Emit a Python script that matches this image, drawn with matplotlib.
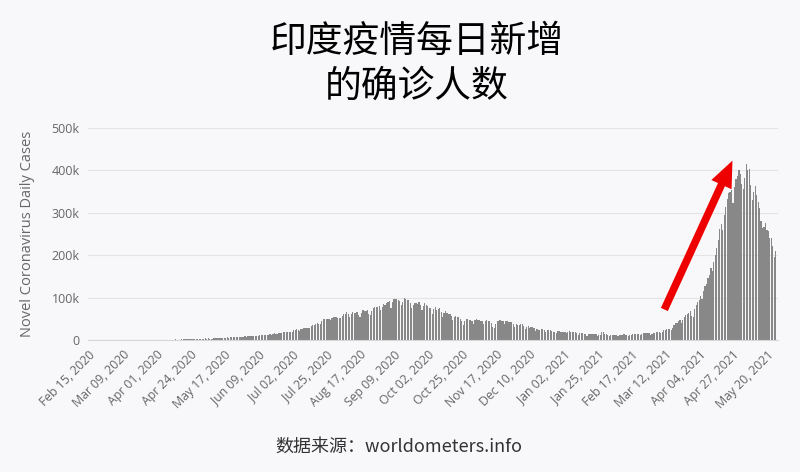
import datetime as dt
import matplotlib
matplotlib.use("Agg")
import matplotlib.pyplot as plt
from matplotlib.patches import FancyArrowPatch

plt.rcParams['font.family'] = ['Open Sans', 'Noto Sans CJK SC', 'DejaVu Sans']

title = "印度疫情每日新增\n的确诊人数"
source = "数据来源：worldometers.info"
ylabel = "Novel Coronavirus Daily Cases"
start_date = dt.date(2020, 2, 15)

# daily new cases, thousands
feb20 = [0.0] * 15
mar20 = [0.0, 0.0, 0.003, 0.001, 0.022, 0.002, 0.001, 0.003, 0.005, 0.009, 0.015, 0.008, 0.01, 0.01,
         0.012, 0.011, 0.01, 0.024, 0.023, 0.053, 0.069, 0.079, 0.111, 0.085, 0.089, 0.072, 0.146,
         0.155, 0.106, 0.227, 0.146]
apr20 = [0.6, 0.5, 0.7, 0.5, 0.7, 0.7, 0.5, 0.6, 0.8, 0.8, 1.0, 0.9, 0.8, 1.3, 1.1, 0.9, 0.9, 1.3,
         1.3, 1.2, 1.5, 1.2, 1.7, 1.4, 1.8, 1.6, 1.6, 1.5, 1.9, 1.8]
may20 = [2.4, 2.4, 2.6, 3.9, 3.0, 3.6, 3.3, 3.3, 3.3, 4.2, 3.6, 3.5, 3.7, 3.9, 3.9, 4.9, 5.0, 4.6,
         6.1, 5.6, 6.0, 6.6, 6.7, 6.8, 6.5, 6.4, 7.0, 7.3, 7.9, 7.5, 8.4]
jun20 = [8.2, 8.8, 9.6, 9.8, 9.9, 10.4, 9.9, 9.9, 10.0, 11.5, 11.1, 11.5, 12.0, 11.5, 10.7, 11.0,
         13.1, 12.9, 14.7, 15.9, 15.0, 14.0, 15.9, 16.9, 17.3, 18.5, 19.8, 19.9, 18.3, 18.5]
jul20 = [18.9, 19.4, 22.7, 24.0, 24.9, 23.1, 22.3, 24.9, 26.5, 27.8, 27.4, 28.6, 28.7, 28.5, 32.7,
         35.5, 34.9, 38.7, 40.2, 37.1, 37.7, 45.7, 49.3, 49.0, 48.7, 50.0, 49.6, 48.3, 52.5, 54.7, 55.1]
aug20 = [54.7, 52.8, 51.3, 52.1, 56.3, 62.2, 62.1, 65.0, 62.1, 53.6, 61.2, 67.0, 64.5, 63.5, 65.0,
         57.9, 55.0, 64.6, 69.7, 68.9, 68.9, 69.9, 61.8, 59.7, 67.2, 75.8, 77.3, 77.0, 78.5, 79.0, 69.9]
sep20 = [78.1, 83.9, 83.3, 86.4, 90.6, 91.7, 75.0, 89.7, 95.5, 96.5, 97.6, 94.4, 92.1, 81.9, 90.1,
         97.9, 96.8, 93.3, 93.2, 86.9, 75.1, 83.3, 86.5, 86.1, 85.4, 89.0, 82.8, 70.6, 80.5, 86.8]
oct20 = [81.5, 79.5, 75.8, 74.8, 61.3, 72.0, 78.8, 70.5, 73.3, 74.4, 66.7, 54.3, 63.5, 67.7, 63.4,
         62.2, 61.9, 55.7, 46.8, 54.0, 56.0, 54.4, 53.4, 50.4, 45.2, 36.5, 43.9, 49.9, 48.6, 48.3, 46.9]
nov20 = [45.2, 38.3, 46.3, 50.2, 47.6, 47.6, 45.7, 45.9, 38.1, 44.3, 47.9, 44.9, 44.7, 41.1, 30.5,
         29.2, 38.6, 45.6, 45.9, 46.2, 45.2, 44.1, 37.9, 44.4, 44.5, 43.1, 41.3, 41.8, 38.8, 31.1]
dec20 = [36.6, 35.9, 35.6, 36.6, 36.7, 32.9, 26.6, 31.5, 32.1, 29.4, 29.9, 30.2, 27.1, 22.1, 26.4,
         24.0, 22.9, 25.2, 25.2, 24.3, 18.7, 22.5, 23.6, 24.7, 22.3, 19.0, 19.4, 16.4, 20.5, 21.8, 20.0]
jan21 = [20.0, 18.2, 18.2, 16.4, 18.0, 20.3, 18.0, 18.1, 18.6, 18.1, 16.2, 12.6, 15.9, 16.9, 15.6,
         15.2, 13.8, 10.0, 13.8, 15.2, 14.5, 14.5, 14.3, 13.2, 9.1, 12.7, 11.7, 18.9, 18.8, 13.0, 13.0]
feb21 = [11.4, 8.6, 11.0, 12.9, 12.4, 12.0, 11.8, 9.0, 11.1, 12.9, 12.1, 13.0, 12.1, 11.6, 9.1,
         11.6, 12.0, 13.2, 13.0, 13.9, 14.3, 14.2, 10.6, 13.7, 16.7, 16.5, 16.5, 16.8]
mar21 = [15.5, 12.3, 14.9, 17.4, 16.8, 18.3, 18.6, 18.6, 15.4, 17.9, 23.0, 23.3, 24.9, 26.3, 26.5,
         24.5, 28.9, 35.9, 39.7, 40.9, 43.8, 46.9, 40.7, 47.3, 53.5, 59.1, 62.3, 62.7, 68.0, 56.2, 53.5]
apr21 = [72.3, 81.4, 89.1, 93.2, 103.8, 96.6, 115.3, 126.3, 131.9, 145.4, 152.9, 169.0, 161.7,
         184.4, 200.7, 217.4, 234.7, 261.5, 273.8, 259.2, 294.3, 314.8, 332.5, 346.8, 349.3, 352.9,
         323.0, 360.9, 379.3, 386.5]
may21 = [401.9, 392.6, 368.1, 357.2, 382.3, 414.3, 401.2, 403.7, 366.2, 329.9, 348.4, 362.7, 343.1,
         326.1, 311.2, 281.4, 263.5, 267.3, 276.1, 259.6, 257.3, 241.0, 240.8, 222.3, 195.8, 208.9]

cases = [v * 1000 for m in (feb20, mar20, apr20, may20, jun20, jul20, aug20, sep20, oct20, nov20,
                            dec20, jan21, feb21, mar21, apr21, may21) for v in m]
dates = [start_date + dt.timedelta(days=i) for i in range(len(cases))]
tick_idx = list(range(0, 461, 23))
tick_labels = [dates[i].strftime("%b %d, %Y") for i in tick_idx]
yticks = [0, 100000, 200000, 300000, 400000, 500000]
ytick_labels = ["0", "100k", "200k", "300k", "400k", "500k"]

bg = '#f8f8fa'
fig = plt.figure(figsize=(8, 4.72), dpi=100, facecolor=bg)
ax = fig.add_axes([0.11, 0.2797, 0.8625, 0.4491], facecolor=bg)

ax.bar(range(len(cases)), cases, width=0.8, color='#888888', linewidth=0)
ax.set_xlim(-0.5, 467.5)
ax.set_ylim(0, 500000)

ax.set_yticks(yticks)
ax.set_yticklabels(ytick_labels, fontsize=9, color='#666666')
ax.set_xticks(tick_idx)
ax.set_xticklabels(tick_labels, rotation=45, ha='right', rotation_mode='anchor',
                   fontsize=8.8, color='#666666')
ax.tick_params(axis='both', length=0, pad=6)
ax.grid(axis='y', color='#e4e4e4', linewidth=0.8)
ax.set_axisbelow(True)
for s in ['top', 'right', 'left']:
    ax.spines[s].set_visible(False)
ax.spines['bottom'].set_color('#d6d6d6')
ax.set_ylabel(ylabel, fontsize=10.5, color='#666666', labelpad=12)

fig.text(0.521, 0.865, title, ha='center', va='center', fontsize=26.5, color='black',
         family=['Noto Sans CJK SC'], linespacing=1.2)
fig.text(0.499, 0.053, source, ha='center', va='center', fontsize=13, color='#333333',
         family=['Noto Sans CJK SC', 'DejaVu Sans'])

arrow = FancyArrowPatch((0.829, 0.339), (0.917, 0.665), transform=fig.transFigure,
                        arrowstyle='simple,head_length=1.9,head_width=1.6,tail_width=0.55',
                        mutation_scale=10, color='#ee0000', lw=0)
fig.patches.append(arrow)

fig.savefig('out.png', dpi=100, facecolor=bg)
